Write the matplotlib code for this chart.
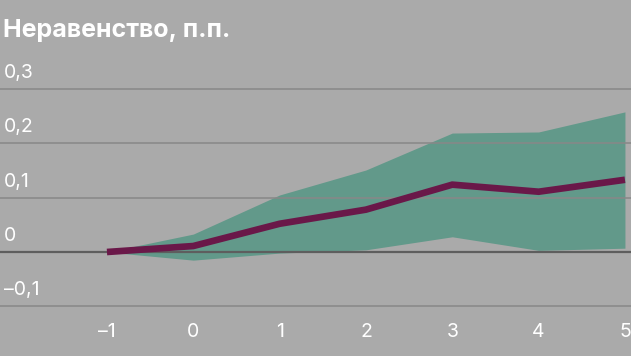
import numpy as np
import matplotlib.pyplot as plt
import matplotlib.transforms as mtransforms

plt.rcParams['font.family'] = ['Inter', 'DejaVu Sans']

years = [-1, 0, 1, 2, 3, 4, 5]
estimate = [0.0, 0.011, 0.052, 0.078, 0.124, 0.111, 0.133]
upper = [0.0, 0.033, 0.105, 0.151, 0.219, 0.221, 0.258]
lower = [0.0, -0.015, -0.002, 0.004, 0.028, 0.003, 0.007]

y_ticks = [0.3, 0.2, 0.1, 0.0, -0.1]
y_labels = ['0,3', '0,2', '0,1', '0', '–0,1']
x_labels = ['–1', '0', '1', '2', '3', '4', '5']

BG = '#aaaaaa'
BAND = '#62998a'
LINE = '#6a1849'
GRID = '#888888'

fig = plt.figure(figsize=[6.31, 3.56], dpi=100)
fig.patch.set_facecolor(BG)
ax = fig.add_axes([0, 0, 1, 1])
ax.set_facecolor(BG)
ax.set_xlim(-2.239, 5.07)
ax.set_ylim(-0.1915, 0.464)
for s in ax.spines.values():
    s.set_visible(False)
ax.set_xticks([])
ax.set_yticks([])

ax.fill_between(years, lower, upper, color=BAND, lw=0, zorder=1)
for v in y_ticks:
    if v == 0:
        ax.axhline(v, color='#5e5e5e', lw=1.6, zorder=2)
    else:
        ax.axhline(v, color=GRID, lw=1.4, alpha=0.8, zorder=2)
ax.plot(years, estimate, color=LINE, lw=4.8, solid_joinstyle='miter',
        solid_capstyle='butt', zorder=3)

# y labels sit above their grid lines
ytrans = mtransforms.blended_transform_factory(ax.transAxes, ax.transData)
yoff = mtransforms.ScaledTranslation(0, 11 / 100, fig.dpi_scale_trans)
for v, lab in zip(y_ticks, y_labels):
    ax.text(0.006, v, lab, transform=ytrans + yoff, color='white',
            fontsize=14, ha='left', va='baseline')

# x labels along the bottom
xtrans = mtransforms.blended_transform_factory(ax.transData, ax.transAxes)
for x, lab in zip(years, x_labels):
    ax.text(x, 1 - 337 / 356, lab, transform=xtrans, color='white',
            fontsize=14, ha='center', va='baseline')

fig.text(0.005, 1 - 37 / 356, 'Неравенство, п.п.', color='white',
         fontsize=18, fontweight='bold', ha='left', va='baseline')

plt.savefig('out.png', dpi=100, facecolor=BG)
